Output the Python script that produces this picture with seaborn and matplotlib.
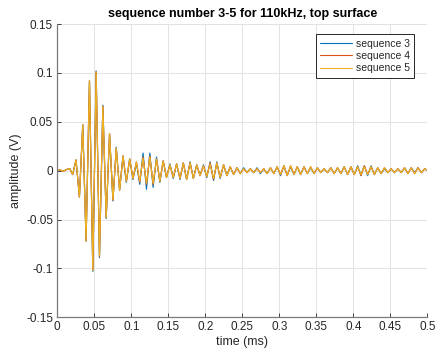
import pandas as pd
import matplotlib
matplotlib.use("Agg")
import matplotlib.pyplot as plt
import seaborn as sns

# Datos: extremos de la senal (tiempo en ms, amplitud en V)
time_ms = [
    0.0, 0.0035, 0.0080, 0.0125, 0.0168,
    0.0208, 0.0253, 0.0299, 0.0344, 0.0389, 0.0435, 0.0480, 0.0525, 0.0570, 0.0616,
    0.0661, 0.0706, 0.0752, 0.0797, 0.0842, 0.0888, 0.0933, 0.0978, 0.1023, 0.1069,
    0.1114, 0.1159, 0.1205, 0.1250, 0.1295, 0.1341, 0.1386, 0.1431, 0.1476, 0.1522,
    0.1567, 0.1612, 0.1658, 0.1703, 0.1748, 0.1794, 0.1839, 0.1884, 0.1929, 0.1975,
    0.2020, 0.2065, 0.2111, 0.2156, 0.2201, 0.2247, 0.2292, 0.2337, 0.2382, 0.2428,
    0.2473, 0.2518, 0.2564, 0.2609, 0.2654, 0.2700, 0.2745, 0.2790, 0.2835, 0.2881,
    0.2926, 0.2971, 0.3017, 0.3062, 0.3107, 0.3153, 0.3198, 0.3243, 0.3288, 0.3334,
    0.3379, 0.3424, 0.3470, 0.3515, 0.3560, 0.3606, 0.3651, 0.3696, 0.3741, 0.3787,
    0.3832, 0.3877, 0.3923, 0.3968, 0.4013, 0.4059, 0.4104, 0.4149, 0.4194, 0.4240,
    0.4285, 0.4330, 0.4376, 0.4421, 0.4466, 0.4512, 0.4557, 0.4602, 0.4647, 0.4693,
    0.4738, 0.4783, 0.4829, 0.4874, 0.4919, 0.4965,
    0.5,
]

seq3 = [
    0.0, 0.0008, -0.0006, 0.0012, 0.0022,
    -0.004, 0.011, -0.027, 0.047, -0.072, 0.092, -0.103, 0.102, -0.089, 0.067,
    -0.049, 0.038, -0.031, 0.024, -0.020, 0.015, -0.012, 0.012, -0.009, 0.008,
    -0.014, 0.018, -0.019, 0.018, -0.017, 0.014, -0.012, 0.010, -0.007, 0.007,
    -0.008, 0.007, -0.009, 0.008, -0.009, 0.009, -0.008, 0.006, -0.005, 0.006,
    -0.007, 0.009, -0.010, 0.009, -0.008, 0.006, -0.005, 0.004, -0.004, 0.003,
    -0.003, 0.003, -0.002, 0.002, -0.002, 0.003, -0.003, 0.002, -0.003, 0.003,
    -0.003, 0.004, -0.005, 0.005, -0.005, 0.004, -0.004, 0.004, -0.004, 0.004,
    -0.003, 0.003, -0.003, 0.003, -0.002, 0.002, -0.002, 0.003, -0.003, 0.003,
    -0.003, 0.004, -0.004, 0.004, -0.004, 0.005, -0.005, 0.005, -0.005, 0.005,
    -0.004, 0.003, -0.003, 0.002, -0.002, 0.002, -0.002, 0.002, -0.002, 0.003,
    -0.003, 0.003, -0.002, 0.003, -0.002, 0.002,
    0.0,
]

seq4 = [
    0.0, 0.0008, -0.0006, 0.0012, 0.0022,
    -0.004, 0.011, -0.027, 0.047, -0.072, 0.092, -0.102, 0.101, -0.088, 0.066,
    -0.048, 0.038, -0.030, 0.023, -0.020, 0.015, -0.011, 0.012, -0.008, 0.009,
    -0.012, 0.014, -0.014, 0.015, -0.014, 0.012, -0.011, 0.010, -0.007, 0.006,
    -0.007, 0.007, -0.008, 0.008, -0.009, 0.008, -0.008, 0.006, -0.005, 0.005,
    -0.006, 0.008, -0.009, 0.008, -0.007, 0.006, -0.005, 0.004, -0.004, 0.003,
    -0.003, 0.002, -0.002, 0.002, -0.002, 0.002, -0.002, 0.002, -0.003, 0.003,
    -0.003, 0.004, -0.004, 0.005, -0.005, 0.005, -0.004, 0.004, -0.004, 0.004,
    -0.003, 0.004, -0.003, 0.003, -0.002, 0.002, -0.002, 0.003, -0.003, 0.003,
    -0.003, 0.004, -0.004, 0.004, -0.004, 0.004, -0.005, 0.005, -0.004, 0.004,
    -0.004, 0.003, -0.003, 0.003, -0.002, 0.002, -0.002, 0.002, -0.002, 0.003,
    -0.003, 0.003, -0.003, 0.003, -0.002, 0.002,
    0.0,
]

seq5 = [
    0.0, 0.0008, -0.0006, 0.0012, 0.0022,
    -0.004, 0.011, -0.027, 0.047, -0.072, 0.092, -0.102, 0.101, -0.087, 0.066,
    -0.048, 0.038, -0.030, 0.023, -0.020, 0.015, -0.011, 0.012, -0.008, 0.009,
    -0.011, 0.013, -0.013, 0.014, -0.013, 0.012, -0.011, 0.010, -0.007, 0.006,
    -0.007, 0.007, -0.008, 0.008, -0.009, 0.008, -0.008, 0.006, -0.005, 0.005,
    -0.006, 0.007, -0.008, 0.008, -0.007, 0.006, -0.005, 0.004, -0.004, 0.003,
    -0.003, 0.002, -0.002, 0.002, -0.002, 0.002, -0.002, 0.002, -0.003, 0.003,
    -0.003, 0.004, -0.004, 0.005, -0.005, 0.005, -0.004, 0.004, -0.004, 0.004,
    -0.003, 0.004, -0.003, 0.003, -0.002, 0.002, -0.002, 0.003, -0.003, 0.003,
    -0.003, 0.004, -0.004, 0.004, -0.004, 0.004, -0.004, 0.004, -0.004, 0.004,
    -0.004, 0.003, -0.003, 0.003, -0.002, 0.002, -0.002, 0.002, -0.002, 0.003,
    -0.003, 0.003, -0.003, 0.003, -0.002, 0.002,
    0.0,
]

series_names = ["sequence 3", "sequence 4", "sequence 5"]
series_colors = ["#0072BD", "#D95319", "#EDB120"]

x_ticks = [0, 0.05, 0.1, 0.15, 0.2, 0.25, 0.3, 0.35, 0.4, 0.45, 0.5]
x_tick_labels = ["0", "0.05", "0.1", "0.15", "0.2", "0.25", "0.3", "0.35", "0.4", "0.45", "0.5"]
y_ticks = [-0.15, -0.1, -0.05, 0, 0.05, 0.1, 0.15]
y_tick_labels = ["-0.15", "-0.1", "-0.05", "0", "0.05", "0.1", "0.15"]

# DataFrame en formato largo
frames = []
for name, vals in zip(series_names, [seq3, seq4, seq5]):
    frames.append(pd.DataFrame({"time": time_ms, "amplitude": vals, "serie": name}))
df = pd.concat(frames, ignore_index=True)

sns.set_style("whitegrid")
plt.rcParams["font.family"] = ["Liberation Sans", "DejaVu Sans"]

fig = plt.figure(figsize=(4.38, 3.54), dpi=100)
ax = fig.add_axes([0.1308, 0.1037, 0.9756 - 0.1308, 0.932 - 0.1037])

sns.lineplot(data=df, x="time", y="amplitude", hue="serie", hue_order=series_names,
             palette=dict(zip(series_names, series_colors)), estimator=None,
             sort=False, linewidth=0.85, ax=ax)

ax.set_xlim(0, 0.5)
ax.set_ylim(-0.15, 0.15)
ax.set_xticks(x_ticks)
ax.set_xticklabels(x_tick_labels)
ax.set_yticks(y_ticks)
ax.set_yticklabels(y_tick_labels)
ax.grid(True, color="#e3e3e3", linewidth=0.7)
ax.set_facecolor("white")

for side in ["top", "right"]:
    ax.spines[side].set_visible(False)
for side in ["left", "bottom"]:
    ax.spines[side].set_color("#7a7a7a")
    ax.spines[side].set_linewidth(0.9)

ax.tick_params(axis="both", direction="in", length=3, width=0.6, color="#262626",
               labelsize=8.5, labelcolor="#262626", pad=3, bottom=True, left=True)

ax.set_title("sequence number 3-5 for 110kHz, top surface", fontsize=9,
             fontweight="bold", color="#000000", pad=5)
ax.set_xlabel("time (ms)", fontsize=9, color="#262626", labelpad=2)
ax.set_ylabel("amplitude (V)", fontsize=9, color="#262626", labelpad=3)

leg = ax.legend(loc="upper right", bbox_to_anchor=(0.965, 0.965), borderaxespad=0,
                fontsize=7.5, frameon=True, fancybox=False, framealpha=1,
                edgecolor="#262626", handlelength=3.0, handletextpad=0.4,
                labelspacing=0.2, borderpad=0.45, title=None)
leg.get_frame().set_linewidth(0.7)
for line in leg.get_lines():
    line.set_linewidth(0.8)

fig.savefig("out.png", dpi=100)
